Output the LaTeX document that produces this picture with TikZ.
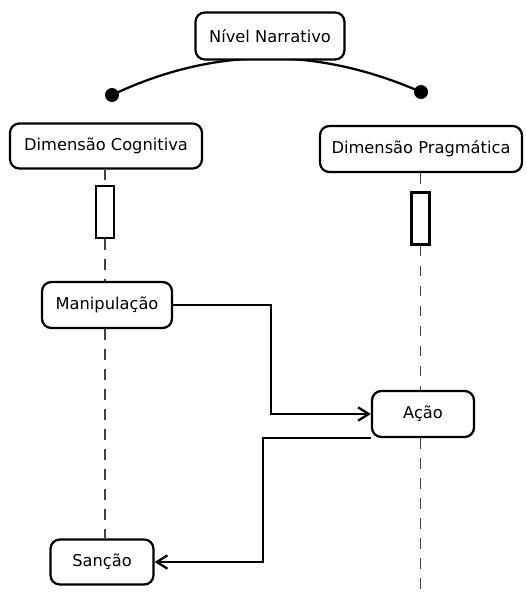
\documentclass[tikz,border=0pt]{standalone}
\usepackage{fontspec}
\setmainfont{DejaVu Sans}
\usetikzlibrary{arrows.meta}

\begin{document}
\begin{tikzpicture}[x=0.75pt, y=-0.75pt,
    box/.style={draw, line width=1.7pt, rounded corners=7pt, fill=white,
      inner sep=0pt, font=\fontsize{12.2}{14}\selectfont},
    activation/.style={draw, line width=1.7pt, fill=white, inner sep=0pt,
      minimum width=13.5pt, minimum height=39pt},
    lifeline/.style={draw=black!75, line width=1.1pt, dash pattern=on 8pt off 7pt},
    dot/.style={circle, fill=black, inner sep=0pt, minimum size=10.5pt},
    flow/.style={line width=1.7pt, -{Straight Barb[length=8pt,width=10pt,line width=1.7pt]}}]
      \useasboundingbox (0,0) rectangle (526,596);
      % the three levels
      \node (dotL) [dot] at (112,95) {};
      \node (dotR) [dot] at (421,92) {};
      \draw[line width=1.7pt] (dotL.center) .. controls (213,47) and (316,46) .. (dotR.center);
      \node (Nar) [box, minimum width=111.75pt, minimum height=35.25pt] at (270,36) {Nível Narrativo};
      \node (Cog) [box, minimum width=144pt, minimum height=33.75pt] at (106,146) {Dimensão Cognitiva};
      \node (Prag) [box, minimum width=151.5pt, minimum height=34.5pt] at (421,149) {Dimensão Pragmática};
      % activations
      \node (actL) [activation] at (105,212) {};
      \node (actR) [activation] at (420.5,218.5) {};
      % phases
      \node (Man) [box, minimum width=97.5pt, minimum height=34.5pt] at (107,305) {Manipulação};
      \node (Acao) [box, minimum width=76.5pt, minimum height=34.5pt] at (423,414) {Ação};
      \node (San) [box, minimum width=77.25pt, minimum height=33.75pt] at (102,562) {Sanção};
      \coordinate (bottom) at (420.5,596);
      \coordinate (turnA) at (271,360);
      \coordinate (turnB) at (263,500);
      % lifelines
      \draw[lifeline] (actL.north |- Cog.south) -- (actL.north);
      \draw[lifeline] (actL.south) -- (actL.south |- Man.north);
      \draw[lifeline] (actL.south |- Man.south) -- (actL.south |- San.north);
      \draw[lifeline] (actR.north |- Prag.south) -- (actR.north);
      \draw[lifeline] (actR.south) -- (actR.south |- Acao.north);
      \draw[lifeline] (actR.south |- Acao.south) -- (bottom);
      % messages
      \draw[flow] (Man.east) -| (turnA) |- (Acao.west);
      \draw[flow] (Acao.south west) -| (turnB) |- (San.east);
    \end{tikzpicture}
\end{document}
